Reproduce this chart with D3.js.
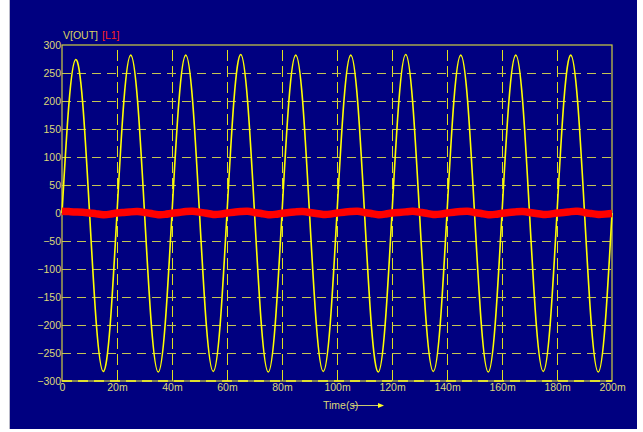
<!DOCTYPE html>
<html>
<head>
<meta charset="utf-8">
<script src="https://cdn.jsdelivr.net/npm/d3@7"></script>
<style>
  body { margin: 0; background: #fff; }
  svg { display: block; }
  text { font-family: "Liberation Sans Narrow", "Liberation Sans", Arial, sans-serif; }
</style>
</head>
<body>
<svg id="chart" width="643" height="432"></svg>
<script>
// time samples every 2.5 ms, 0 .. 200 ms
const timeMs = d3.range(0, 200.01, 2.5);

// V[OUT] (volts)
const voutValues = [
  0, 194, 274, 198, 2, -199, -283, -201,
  0, 200, 282, 199, 1, -200, -284, -200,
  0, 199, 282, 200, 0, -201, -283, -200,
  0, 200, 283, 199, 1, -200, -284, -201,
  0, 200, 282, 200, 0, -200, -283, -200,
  0, 199, 282, 200, 1, -201, -284, -200,
  0, 200, 283, 199, 0, -200, -283, -201,
  0, 200, 282, 200, 1, -200, -284, -200,
  0, 199, 282, 200, 0, -201, -283, -200,
  0, 200, 282, 199, 1, -200, -284, -200,
  0
];

// I(L1), tiny wobble around zero
const il1Values = [
  3, 2.5, 2, 1.5, 0, -1.5, -3, -2,
  0, 1, 2, 2.5, 1, -1, -3, -2.5,
  -0.5, 1, 2.5, 3, 1.5, -0.5, -2.5, -2,
  0, 1.5, 2.5, 3, 1, -1, -3, -2.5,
  -0.5, 1, 2, 2.5, 1, -1, -2.5, -2,
  0, 1.5, 2.5, 3, 1, -1, -3, -2,
  0, 1, 2, 3, 1.5, -0.5, -2.5, -2,
  0, 1.5, 2.5, 3, 1, -1, -3, -2.5,
  -0.5, 1, 2, 2.5, 1, -1, -2.5, -2,
  0, 1, 2.5, 3, 1, -1, -2.5, -2,
  -1
];

const yTicks = d3.range(-300, 301, 50);
const xTicks = d3.range(0, 0.2001, 0.02);
const xTickLabels = ['0', '20m', '40m', '60m', '80m', '100m', '120m', '140m', '160m', '180m', '200m'];

const svg = d3.select('#chart');

// navy panel
svg.append('rect')
  .attr('x', 9).attr('y', 0).attr('width', 628).attr('height', 429)
  .attr('fill', '#000080');
svg.append('line')
  .attr('x1', 9.5).attr('x2', 9.5).attr('y1', 0).attr('y2', 429)
  .attr('stroke', '#b8b8c8');

const x = d3.scaleLinear().domain([0, 0.2]).range([62, 612]);
const y = d3.scaleLinear().domain([-300, 300]).range([381, 45]);

// gridlines
svg.append('g')
  .attr('transform', 'translate(0,381)')
  .call(d3.axisBottom(x).tickValues(xTicks.slice(1, -1)).tickSize(-336).tickFormat(''))
  .call(g => g.select('.domain').remove())
  .call(g => g.selectAll('line').attr('stroke', '#e0e020').attr('stroke-dasharray', '11,5'));

svg.append('g')
  .attr('transform', 'translate(62,0)')
  .call(d3.axisLeft(y).tickValues(yTicks.slice(1, -1)).tickSize(-550).tickFormat(''))
  .call(g => g.select('.domain').remove())
  .call(g => g.selectAll('line').attr('stroke', '#c4c454').attr('stroke-dasharray', '9,6'));

// frame
svg.append('rect')
  .attr('x', 62).attr('y', 45).attr('width', 550).attr('height', 336)
  .attr('fill', 'none').attr('stroke', '#d0d040').attr('stroke-width', 1.2);
svg.append('line')
  .attr('x1', 62).attr('x2', 612).attr('y1', y(-300)).attr('y2', y(-300))
  .attr('stroke', '#ffff20').attr('stroke-width', 1.5).attr('stroke-dasharray', '10,6');

// tick labels
const yAxis = svg.append('g')
  .attr('transform', 'translate(62,0)')
  .call(d3.axisLeft(y).tickValues(yTicks).tickSize(0).tickPadding(1))
  .call(g => g.select('.domain').remove());
yAxis.selectAll('text')
  .attr('fill', '#dcd878').attr('font-size', 10.5)
  .style('font-family', '"Liberation Sans Narrow", "Liberation Sans", sans-serif');

const xAxis = svg.append('g')
  .attr('transform', 'translate(0,381)')
  .call(d3.axisBottom(x).tickValues(xTicks).tickSize(0).tickPadding(3)
    .tickFormat((d, i) => xTickLabels[i]))
  .call(g => g.select('.domain').remove());
xAxis.selectAll('text')
  .attr('fill', '#dcd878').attr('font-size', 10.5)
  .style('font-family', '"Liberation Sans Narrow", "Liberation Sans", sans-serif');

// traces
const line = d3.line()
  .x((d, i) => x(timeMs[i] / 1000))
  .y(d => y(d));

svg.append('path')
  .datum(voutValues)
  .attr('fill', 'none')
  .attr('stroke', '#ffff00')
  .attr('stroke-width', 1.6)
  .attr('d', line.curve(d3.curveNatural));

svg.append('path')
  .datum(il1Values)
  .attr('fill', 'none')
  .attr('stroke', '#ff0000')
  .attr('stroke-width', 7.5)
  .attr('d', line.curve(d3.curveNatural));

// legend
const legend = svg.append('text')
  .attr('x', 63).attr('y', 39)
  .attr('font-size', 10.5);
legend.append('tspan').attr('fill', '#dcd460').text('V[OUT]');
legend.append('tspan').attr('fill', '#ff2020').attr('dx', 4).text('[L1]');

// time label with arrow
svg.append('text')
  .attr('x', 323).attr('y', 409)
  .attr('font-size', 10.5)
  .attr('fill', '#dcd878')
  .text('Time(s)');
svg.append('line')
  .attr('x1', 352).attr('x2', 380).attr('y1', 405.5).attr('y2', 405.5)
  .attr('stroke', '#c8c870').attr('stroke-width', 1);
svg.append('path')
  .attr('d', 'M378,403 L384,405.5 L378,408 Z')
  .attr('fill', '#ffff20');
</script>
</body>
</html>
